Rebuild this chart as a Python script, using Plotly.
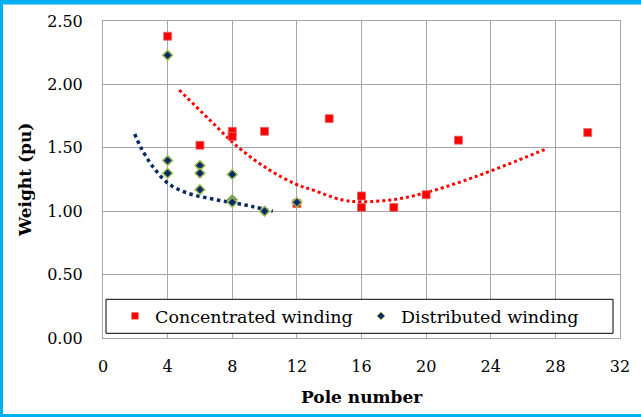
import plotly.graph_objects as go

# ---- data ----
conc_x = [4, 6, 8, 8, 10, 12, 14, 16, 16, 18, 20, 22, 30]
conc_y = [2.38, 1.52, 1.63, 1.59, 1.63, 1.06, 1.73, 1.12, 1.03, 1.03, 1.13, 1.56, 1.62]
dist_x = [4, 4, 4, 6, 6, 6, 8, 8, 8, 10, 12]
dist_y = [2.23, 1.40, 1.30, 1.36, 1.30, 1.17, 1.29, 1.09, 1.07, 1.00, 1.07]

# trend curves
conc_trend_x = [4.72, 6.6, 8.45, 10.3, 11.96, 12.99, 14.84, 16.06, 18.14, 20.2, 22.47, 24.95, 27.52]
conc_trend_y = [1.956, 1.72, 1.496, 1.325, 1.212, 1.167, 1.088, 1.075, 1.094, 1.154, 1.246, 1.364, 1.496]
dist_trend_x = [1.96, 2.37, 3.09, 4.02, 5.16, 6.6, 8.04, 9.28, 10.51]
dist_trend_y = [1.609, 1.496, 1.351, 1.22, 1.146, 1.10, 1.067, 1.036, 1.0]

x_ticks = [0, 4, 8, 12, 16, 20, 24, 28, 32]
y_ticks = [0.0, 0.5, 1.0, 1.5, 2.0, 2.5]

FONT = "DejaVu Serif"
RED = "#FF0000"
NAVY = "#0B2A66"
GREEN = "#9BBB59"
CYAN = "#00B0F0"
GRID = "#A6A6A6"

W, H = 641, 417
ML, MR, MT, MB = 103, 21, 21, 79
PW, PH = W - ML - MR, H - MT - MB


def px(x):
    return (x - ML) / PW


def py(y):
    return (H - MB - y) / PH


fig = go.Figure()

fig.add_trace(go.Scatter(x=conc_trend_x, y=conc_trend_y, mode="lines",
                         line=dict(color=RED, width=3, dash="dot", shape="spline"),
                         showlegend=False, hoverinfo="skip"))
fig.add_trace(go.Scatter(x=dist_trend_x, y=dist_trend_y, mode="lines",
                         line=dict(color=NAVY, width=3.5, dash="dot", shape="spline"),
                         showlegend=False, hoverinfo="skip"))

fig.add_trace(go.Scatter(x=conc_x, y=conc_y, mode="markers", name="Concentrated winding",
                         marker=dict(symbol="square", size=8, color=RED,
                                     line=dict(color="rgba(220,110,110,0.8)", width=1)),
                         showlegend=False))
fig.add_trace(go.Scatter(x=dist_x, y=dist_y, mode="markers", name="Distributed winding",
                         marker=dict(symbol="diamond", size=7.5, color=NAVY,
                                     line=dict(color=GREEN, width=1.5)),
                         showlegend=False))

# legend-only entries (smaller symbols as in the reference)
fig.add_trace(go.Scatter(x=[None], y=[None], mode="markers", name="Concentrated winding",
                         marker=dict(symbol="square", size=7, color=RED)))
fig.add_trace(go.Scatter(x=[None], y=[None], mode="markers", name="Distributed winding",
                         marker=dict(symbol="diamond", size=6, color=NAVY,
                                     line=dict(color=GREEN, width=1))))

shapes = [
    # legend box
    dict(type="rect", xref="paper", yref="paper", x0=px(106), x1=px(613), y0=py(333.3), y1=py(299.3),
         line=dict(color="black", width=1), fillcolor="white", layer="above"),
    # cyan frame
    dict(type="rect", xref="paper", yref="paper", x0=px(0), x1=px(W), y0=py(4.5), y1=py(0),
         line=dict(width=0), fillcolor=CYAN, layer="above"),
    dict(type="rect", xref="paper", yref="paper", x0=px(0), x1=px(3), y0=py(H), y1=py(0),
         line=dict(width=0), fillcolor=CYAN, layer="above"),
    dict(type="rect", xref="paper", yref="paper", x0=px(0), x1=px(W), y0=py(H), y1=py(414),
         line=dict(width=0), fillcolor=CYAN, layer="above"),
]

annotations = [
    dict(text="<b>Weight (pu)</b>", xref="paper", yref="paper", x=px(25), y=py(180),
         showarrow=False, textangle=-90, font=dict(family=FONT, size=17, color="black"),
         xanchor="center", yanchor="middle"),
    dict(text="<b>Pole number</b>", xref="paper", yref="paper", x=px(362), y=py(397),
         showarrow=False, font=dict(family=FONT, size=17, color="black"),
         xanchor="center", yanchor="middle"),
]

fig.update_layout(
    width=W, height=H,
    margin=dict(l=ML, r=MR, t=MT, b=MB, pad=0),
    paper_bgcolor="white", plot_bgcolor="white",
    font=dict(family=FONT, size=16, color="black"),
    shapes=shapes, annotations=annotations,
    legend=dict(orientation="h", x=px(115), y=py(316), xanchor="left", yanchor="middle",
                bgcolor="rgba(0,0,0,0)", borderwidth=0,
                font=dict(family=FONT, size=17.5, color="black"),
                entrywidth=201, entrywidthmode="pixels", itemsizing="trace"),
    xaxis=dict(range=[0, 32], tickvals=x_ticks, ticktext=[str(v) for v in x_ticks],
               showgrid=True, gridcolor=GRID, gridwidth=1, zeroline=False,
               showline=True, linecolor=GRID, linewidth=1, mirror=True,
               ticks="", ticklabelstandoff=14, tickfont=dict(family=FONT, size=16)),
    yaxis=dict(range=[0, 2.5], tickvals=y_ticks, ticktext=[f"{v:.2f}" for v in y_ticks],
               showgrid=True, gridcolor=GRID, gridwidth=1, zeroline=False,
               showline=True, linecolor=GRID, linewidth=1, mirror=True,
               ticks="", ticklabelstandoff=16, tickfont=dict(family=FONT, size=16)),
)

fig.write_html("out.html")
